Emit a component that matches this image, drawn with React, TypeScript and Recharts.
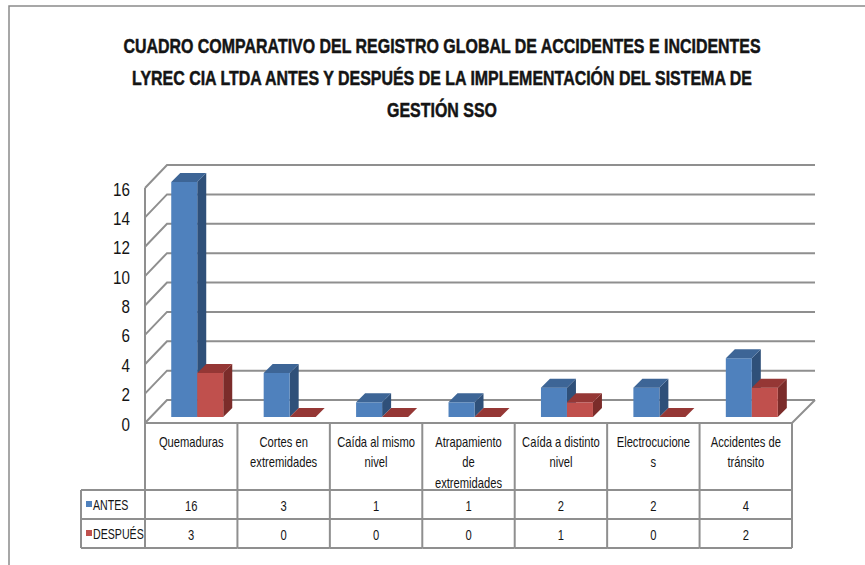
import React from 'react';
import { BarChart, Bar, XAxis, YAxis, CartesianGrid } from 'recharts';

const categories = [
  'Quemaduras',
  'Cortes en extremidades',
  'Caída al mismo nivel',
  'Atrapamiento de extremidades',
  'Caída a distinto nivel',
  'Electrocuciones',
  'Accidentes de tránsito',
];
const categoryLines = [
  ['Quemaduras'],
  ['Cortes en', 'extremidades'],
  ['Caída al mismo', 'nivel'],
  ['Atrapamiento', 'de', 'extremidades'],
  ['Caída a distinto', 'nivel'],
  ['Electrocucione', 's'],
  ['Accidentes de', 'tránsito'],
];
const antes = [16, 3, 1, 1, 2, 2, 4];
const despues = [3, 0, 0, 0, 1, 0, 2];
const seriesNames = ['ANTES', 'DESPUÉS'];
const yTicks = [0, 2, 4, 6, 8, 10, 12, 14, 16];
const titleLines = [
  'CUADRO COMPARATIVO DEL REGISTRO GLOBAL DE ACCIDENTES E INCIDENTES',
  'LYREC CIA LTDA ANTES Y DESPUÉS DE LA IMPLEMENTACIÓN DEL SISTEMA DE',
  'GESTIÓN SSO',
];

const data = categories.map((c, i) => ({ name: c, antes: antes[i], despues: despues[i] }));

const W = 865;
const H = 565;
const MARGIN = { top: 182, right: 67, bottom: 0, left: 91 };
const Y_AXIS_W = 60;
const X_AXIS_H = 148;
const PLOT_W = W - MARGIN.left - MARGIN.right - Y_AXIS_W;
const BAND = PLOT_W / categories.length;

const FONT = "'Liberation Sans', Arial, sans-serif";
const GRID = '#8f8f8f';
const TEXT = '#141414';
const SX = 0.8;

const BLUE = { front: '#4F81BD', top: '#3D6596', side: '#2F5079' };
const RED = { front: '#C0504D', top: '#953735', side: '#7B2C2A' };

const DEPTH = 9;
const FRONT = { dx: -6, dy: 6 };
const BACK = { dx: 16, dy: -17 };

const NText = ({ x, y, size, anchor = 'middle', sx = SX, children, weight, stroke }: any) => (
  <text
    transform={`translate(${x},${y}) scale(${sx},1)`}
    x={0}
    y={0}
    textAnchor={anchor}
    fontFamily={FONT}
    fontSize={size}
    fontWeight={weight}
    fill={TEXT}
    stroke={stroke ? TEXT : undefined}
    strokeWidth={stroke}
  >
    {children}
  </text>
);

const makeBox = (c: { front: string; top: string; side: string }) => (props: any) => {
  const { x, y, width: w, height: h } = props;
  if (x == null || y == null) return null;
  const d = DEPTH;
  return (
    <g>
      <polygon points={`${x + w},${y} ${x + w + d},${y - d} ${x + w + d},${y + h - d} ${x + w},${y + h}`} fill={c.side} />
      {h > 0 && <rect x={x} y={y} width={w} height={h} fill={c.front} />}
      <polygon points={`${x},${y} ${x + d},${y - d} ${x + w + d},${y - d} ${x + w},${y}`} fill={c.top} />
    </g>
  );
};

const gridLine = (p: any) => {
  const { x1, x2, y1, index } = p;
  const top = p.y;
  const bottom = p.y + p.height;
  const isFloor = Math.abs(y1 - bottom) < 0.5;
  const isTop = Math.abs(y1 - top) < 0.5;
  const fl = x1 + FRONT.dx;
  const bl = x1 + BACK.dx;
  const br = x2 + BACK.dx + 1;
  return (
    <g key={p.key ?? `gl-${index}`}>
      <polyline
        points={`${fl},${y1 + FRONT.dy} ${bl},${y1 + BACK.dy} ${br},${y1 + BACK.dy}`}
        fill="none"
        stroke={GRID}
        strokeWidth={2}
      />
      {isFloor && (
        <polyline
          points={`${fl},${y1 + FRONT.dy} ${x2 + FRONT.dx},${y1 + FRONT.dy} ${br},${y1 + BACK.dy}`}
          fill="none"
          stroke={GRID}
          strokeWidth={2}
        />
      )}
      {isTop && (
        <line x1={fl} y1={y1 + FRONT.dy} x2={fl} y2={bottom + FRONT.dy} stroke={GRID} strokeWidth={2} />
      )}
    </g>
  );
};

const YTick = (props: any) => {
  const { x, y, payload } = props;
  return (
    <NText x={x - 21} y={y + 13.5} size={19} anchor="end">
      {payload.value}
    </NText>
  );
};

const XTick = (props: any) => {
  const { x, y, index } = props;
  const cx = x + FRONT.dx;
  const left = cx - BAND / 2;
  const right = cx + BAND / 2;
  const top = y + FRONT.dy;
  const row1 = y + 73;
  const row2 = y + 102;
  const row3 = y + 131;
  const lines = categoryLines[index] || [];
  const stroke = { stroke: GRID, strokeWidth: 2 };
  return (
    <g>
      <line x1={right} y1={top} x2={right} y2={row3} {...stroke} />
      {index === 0 && <line x1={left} y1={top} x2={left} y2={row3} {...stroke} />}
      <line x1={left} y1={row1} x2={right} y2={row1} {...stroke} />
      <line x1={left} y1={row2} x2={right} y2={row2} {...stroke} />
      <line x1={left} y1={row3} x2={right} y2={row3} {...stroke} />
      {lines.map((t, k) => (
        <NText key={k} x={cx} y={y + 29.5 + k * 20.5} size={14}>
          {t}
        </NText>
      ))}
      <NText x={cx} y={row1 + 21} size={14}>
        {antes[index]}
      </NText>
      <NText x={cx} y={row2 + 21} size={14}>
        {despues[index]}
      </NText>
      {index === 0 && (
        <g>
          <line x1={left - 64} y1={row1} x2={left} y2={row1} {...stroke} />
          <line x1={left - 64} y1={row2} x2={left} y2={row2} {...stroke} />
          <line x1={left - 64} y1={row3} x2={left} y2={row3} {...stroke} />
          <line x1={left - 64} y1={row1} x2={left - 64} y2={row3} {...stroke} />
          <rect x={left - 59} y={row1 + 11} width={6} height={6} fill={BLUE.front} />
          <NText x={left - 52} y={row1 + 20} size={14} anchor="start" sx={0.76}>
            {seriesNames[0]}
          </NText>
          <rect x={left - 59} y={row2 + 11} width={6} height={6} fill={RED.front} />
          <NText x={left - 52} y={row2 + 20} size={14} anchor="start" sx={0.76}>
            {seriesNames[1]}
          </NText>
        </g>
      )}
    </g>
  );
};

const titleY = [53, 85, 117];

export default function App() {
  return (
    <div style={{ position: 'absolute', left: 0, top: 0, width: W, height: H, background: '#fff' }}>
      <BarChart
        width={W}
        height={H}
        data={data}
        margin={MARGIN}
        barCategoryGap="21.9%"
        barGap={0}
      >
        <CartesianGrid vertical={false} horizontal={gridLine as any} />
        <XAxis
          dataKey="name"
          axisLine={false}
          tickLine={false}
          tickSize={0}
          tickMargin={0}
          height={X_AXIS_H}
          interval={0}
          tick={<XTick />}
        />
        <YAxis
          domain={[0, 16]}
          ticks={yTicks}
          width={Y_AXIS_W}
          axisLine={false}
          tickLine={false}
          tickSize={0}
          tickMargin={0}
          tick={<YTick />}
        />
        <Bar dataKey="antes" name={seriesNames[0]} fill={BLUE.front} isAnimationActive={false} shape={makeBox(BLUE)} />
        <Bar dataKey="despues" name={seriesNames[1]} fill={RED.front} isAnimationActive={false} shape={makeBox(RED)} />
      </BarChart>
      <svg
        width={W}
        height={H}
        style={{ position: 'absolute', left: 0, top: 0, pointerEvents: 'none' }}
      >
        <polyline points={`9,${H} 9,6 ${W},6`} fill="none" stroke="#8a8a8a" strokeWidth={1.5} />
        {titleLines.map((t, i) => (
          <NText key={i} x={442} y={titleY[i]} size={21} weight="bold" sx={0.76} stroke={0.5}>
            {t}
          </NText>
        ))}
      </svg>
    </div>
  );
}
